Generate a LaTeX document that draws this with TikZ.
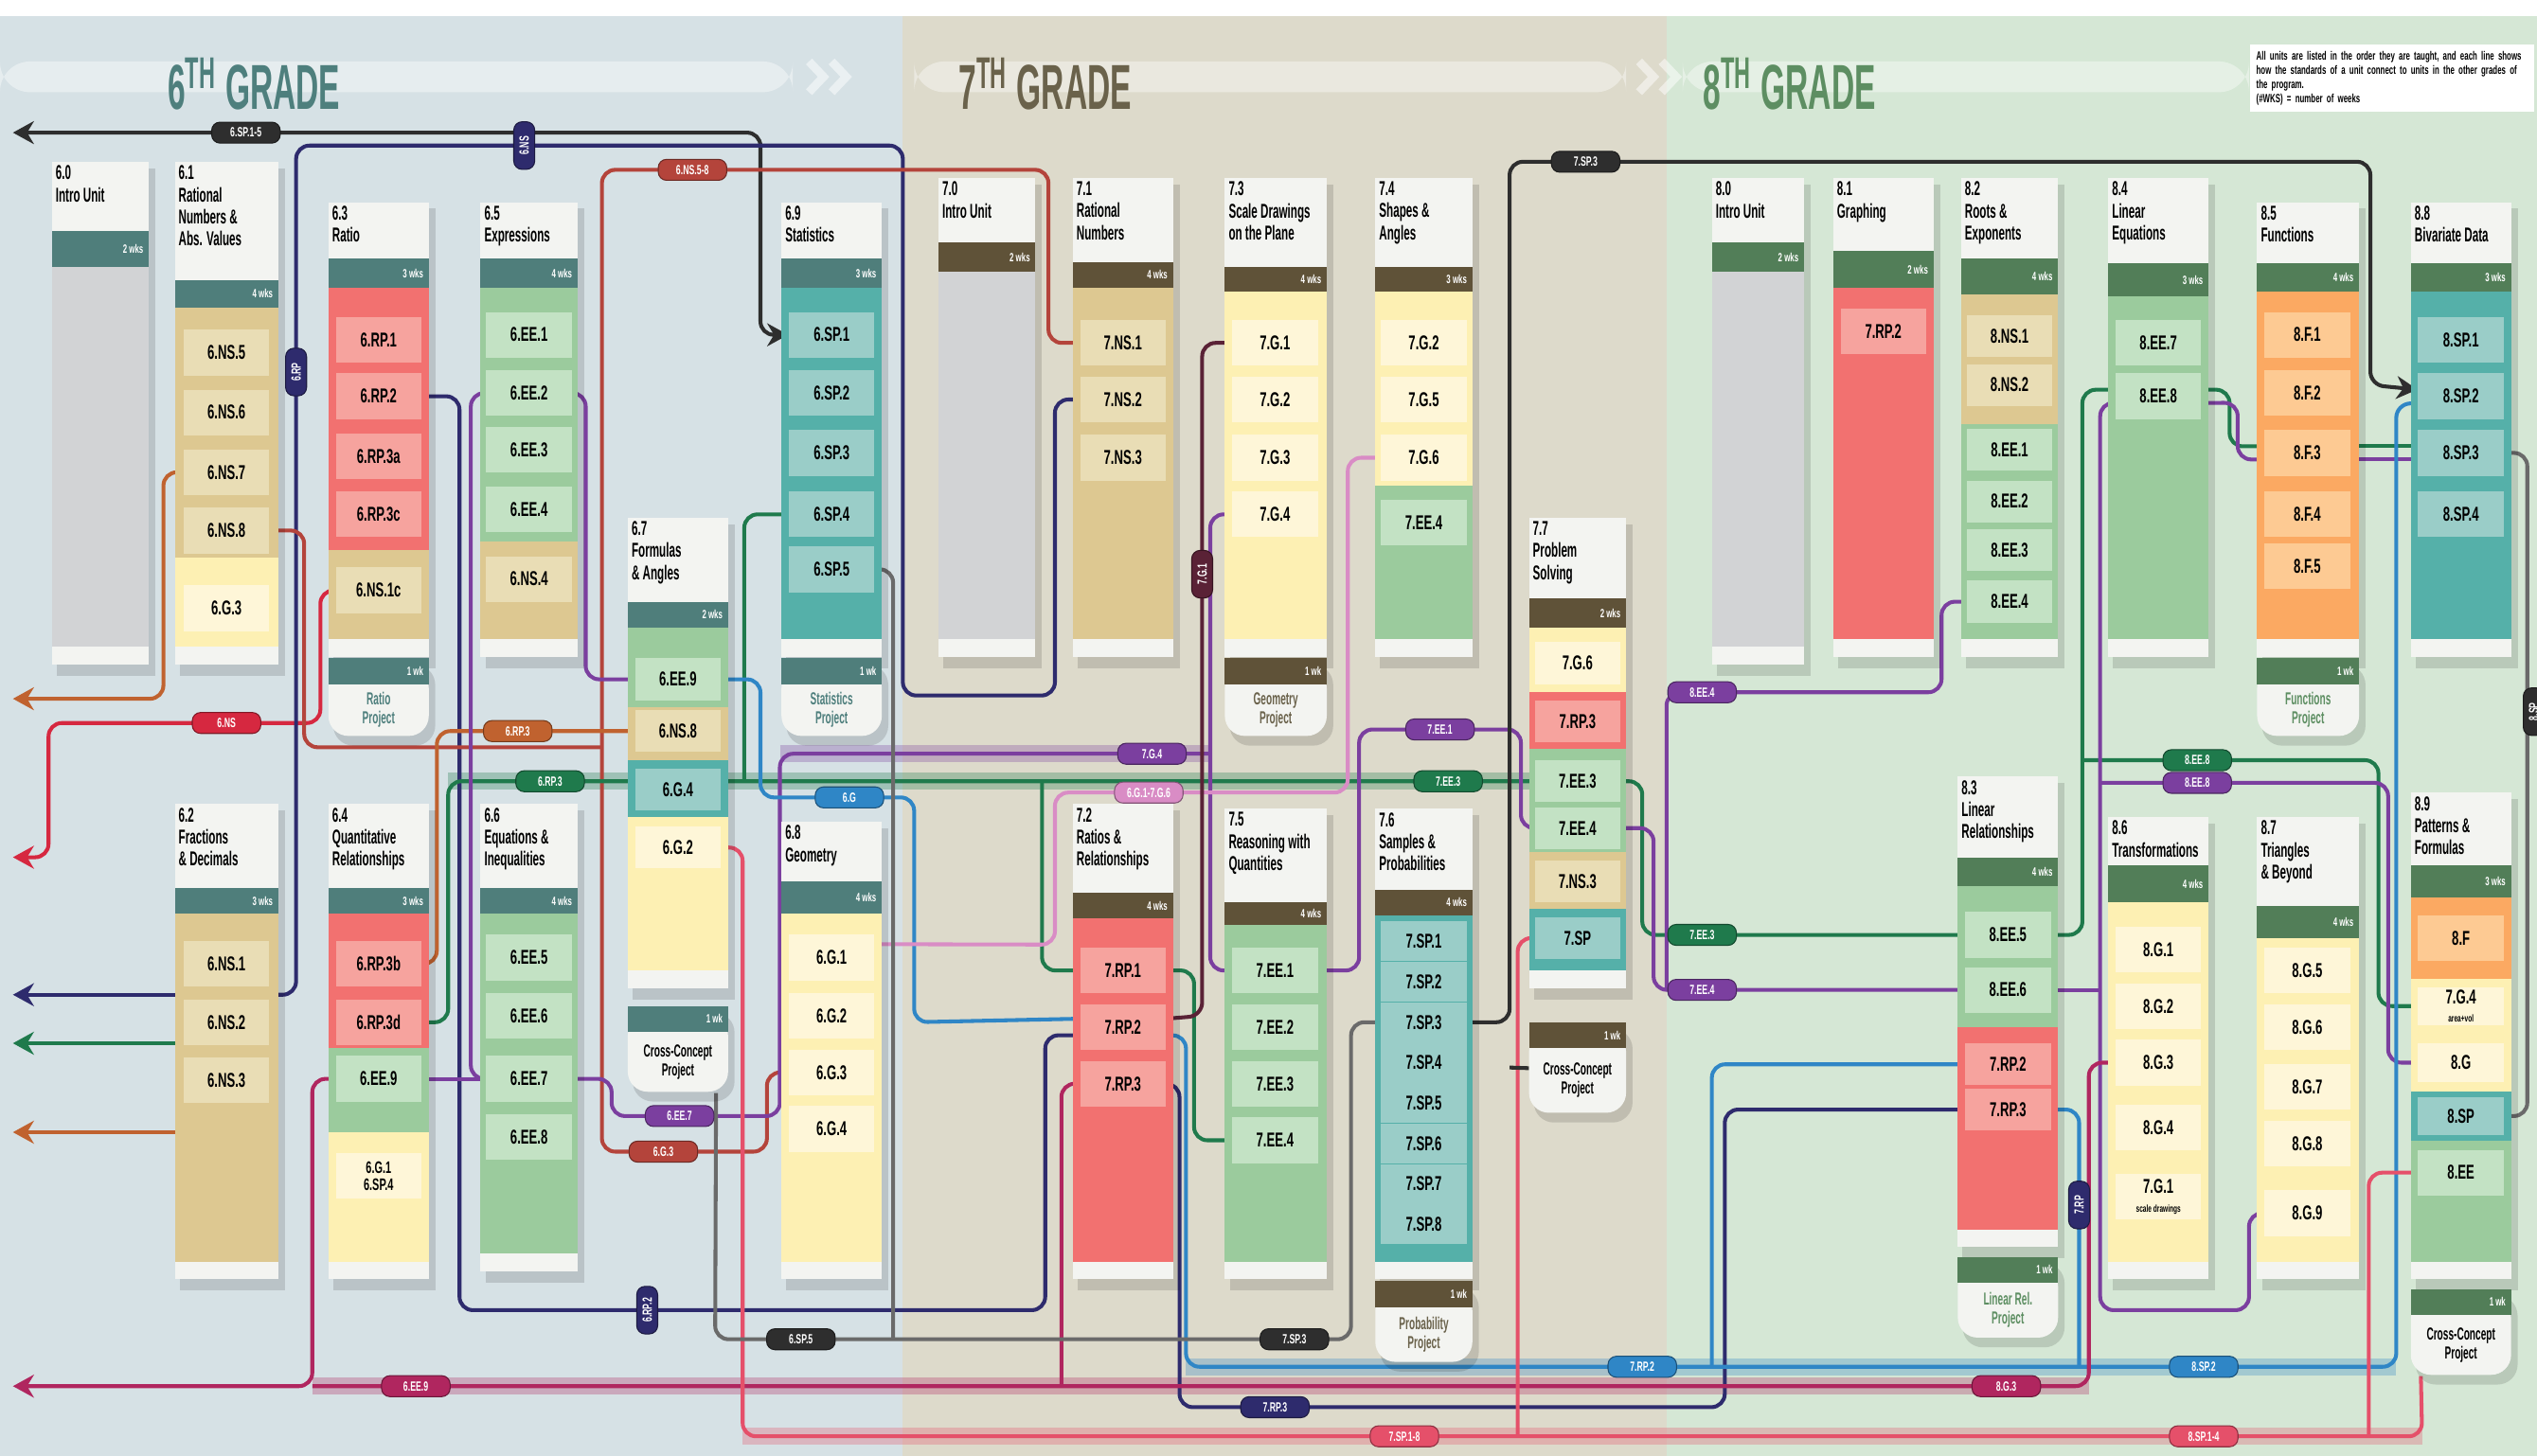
\documentclass[tikz,border=0pt]{standalone}
\usepackage{fontspec}
\usepackage{tikz}
\usetikzlibrary{positioning,arrows.meta,calc,backgrounds}
\newfontfamily\cond{Liberation Sans}[FakeStretch=0.62]
\newfontfamily\condn{Liberation Sans}[FakeStretch=0.55]
\newfontfamily\gradefont{Liberation Sans}[FakeStretch=0.5]
% panels
\definecolor{bgSix}{HTML}{D6E1E5}
\definecolor{bgSeven}{HTML}{DDDACB}
\definecolor{bgEight}{HTML}{D5E7D5}
\definecolor{colwhite}{HTML}{F3F4F1}
\definecolor{barSix}{HTML}{4F7E7B}
\definecolor{barSeven}{HTML}{5F5238}
\definecolor{barEight}{HTML}{527E58}
\definecolor{tSix}{HTML}{4E7F7D}
\definecolor{tSeven}{HTML}{6A624B}
\definecolor{tEight}{HTML}{5D8E62}
% unit bodies
\definecolor{cGray}{HTML}{D2D3D5}
\definecolor{cTan}{HTML}{DDC891}
\definecolor{cTanL}{HTML}{E9DDB5}
\definecolor{cRed}{HTML}{F27170}
\definecolor{cRedL}{HTML}{F6A39E}
\definecolor{cGrn}{HTML}{9BCB9D}
\definecolor{cGrnL}{HTML}{C3E2C4}
\definecolor{cTeal}{HTML}{55B0A9}
\definecolor{cTealL}{HTML}{9ACDC8}
\definecolor{cYel}{HTML}{FDF0B3}
\definecolor{cYelL}{HTML}{FEF6D8}
\definecolor{cOra}{HTML}{FBA962}
\definecolor{cOraL}{HTML}{FDCA93}
% lines
\definecolor{cBlack}{HTML}{2E2E2E}
\definecolor{cNavy}{HTML}{2E2B6D}
\definecolor{cBrick}{HTML}{B4443B}
\definecolor{cRedT}{HTML}{D62840}
\definecolor{cRust}{HTML}{C0622F}
\definecolor{cGreen}{HTML}{1F7A4C}
\definecolor{cPurple}{HTML}{7B3F9F}
\definecolor{cBlue}{HTML}{2F86C6}
\definecolor{cPink}{HTML}{D98CC5}
\definecolor{cMag}{HTML}{B0265F}
\definecolor{cCrim}{HTML}{E5506A}
\definecolor{cMaroon}{HTML}{5A2236}
\definecolor{cGrayL}{HTML}{6A6A6A}
\pgfdeclarelayer{wires}
\pgfsetlayers{background,wires,main}

% #1 x0 #2 x1 #3 title top #4 bar top #5 body top #6 body bottom #7 bar colour #8 title #9 weeks
\newcommand\unitcol[9]{%
  \fill[black,opacity=.13] (#1+3,#3+4) rectangle (#2+4,#6+18);
  \fill[colwhite] (#1,#3) rectangle (#2,#6+11);
  \fill[#7] (#1,#4) rectangle (#2,#5);
  \node[ttl] at (#1+2,#3+2) {#8};
  \node[wks] at (#2-3,{(#4+#5)/2}) {#9};
}
% #1 name #2 x0 #3 x1 #4 y0 #5 y1 #6 header colour #7 text colour #8 text
\newcommand\projtag[8]{%
  \fill[black,opacity=.13,rounded corners=6pt] (#2+3,#4+4) rectangle (#3+4,#5+6);
  \fill[colwhite,rounded corners=6pt] (#2,#4+6) rectangle (#3,#5);
  \fill[#6] (#2,#4) rectangle (#3,#4+16);
  \node[wks] at (#3-3,#4+8) {1 wk};
  \node[tagbox,minimum width={(#3-#2)*0.017cm},minimum height={(#5-#4)*0.017cm}] (#1) at (#2,#4) {};
  \node[tagtx,text=#7] at ({(#2+#3)/2},{(#4+16+#5)/2}) {#8};
}

\begin{document}
\begin{tikzpicture}[x=0.017cm, y=-0.017cm,
  >={Stealth[length=2.2mm,width=2.4mm]},
  ttl/.style={anchor=north west, align=left, inner sep=0pt,
              font=\condn\bfseries\fontsize{6}{6.6}\selectfont},
  wks/.style={anchor=east, inner sep=0pt, text=white,
              font=\cond\bfseries\fontsize{3.6}{4}\selectfont},
  item/.style={fill=#1, minimum width=0.9cm, minimum height=0.48cm,
               inner sep=0pt, align=center,
               font=\cond\bfseries\fontsize{6}{6.5}\selectfont},
  tagbox/.style={anchor=north west, inner sep=0pt},
  tagtx/.style={align=center, inner sep=0pt,
                font=\condn\bfseries\fontsize{5.2}{5.6}\selectfont},
  grade/.style={inner sep=0pt, font=\gradefont\bfseries\fontsize{19}{19}\selectfont},
  wire/.style={draw=#1, line width=1.15pt, rounded corners=4pt},
  halo/.style={draw=#1, line width=5pt, opacity=.3},
  pill/.style={fill=#1, draw=#1!60!black, line width=.3pt, rounded corners=2.5pt,
               text=white, inner sep=1pt, minimum height=0.22cm, minimum width=0.72cm,
               font=\cond\bfseries\fontsize{4}{4}\selectfont},
  vpill/.style={pill=#1, rotate=90, minimum width=0.5cm},
  legend/.style={anchor=north west, fill=white, text width=2.85cm, inner sep=2pt,
                 align=left, font=\cond\bfseries\fontsize{3.6}{4.3}\selectfont},
]
\useasboundingbox (0,0) rectangle (1568,900);

\begin{scope}[on background layer]
  \fill[white] (0,0) rectangle (1568,10);
  \fill[bgSix] (0,10) rectangle (558,900);
  \fill[bgSeven] (558,10) rectangle (1030,900);
  \fill[bgEight] (1030,10) rectangle (1568,900);
  % header bands
  \fill[white,opacity=.4,rounded corners=9pt] (0,38) rectangle (490,57);
  \fill[white,opacity=.4,rounded corners=9pt] (565,38) rectangle (1005,57);
  \fill[white,opacity=.4,rounded corners=9pt] (1040,38) rectangle (1390,57);
  \foreach \cx in {500,514,1013,1027}
    \draw[white,opacity=.5,line width=2.5pt] (\cx,38) -- (\cx+9,47.5) -- (\cx,57);
\end{scope}

% grade titles and legend
\node[grade, text=tSix] (gr6) at (157,52) {6\textsuperscript{TH} GRADE};
\node[grade, text=tSeven] (gr7) at (646,52) {7\textsuperscript{TH} GRADE};
\node[grade, text=tEight] (gr8) at (1106,52) {8\textsuperscript{TH} GRADE};
\node[legend] (lgd) at (1390,27) {All units are listed in the order they are taught, and each
  line shows how the standards of a unit connect to units in the other grades of the program.\\
  (\#WKS) = number of weeks};

% ---------- 6th grade, top row
\unitcol{32}{92}{100}{143}{165}{400}{barSix}{6.0\\Intro Unit}{2 wks}
\fill[cGray] (32,165) rectangle (92,400);

\unitcol{108}{172}{100}{173}{190}{400}{barSix}{6.1\\Rational\\Numbers \&\\Abs. Values}{4 wks}
\fill[cTan] (108,190) rectangle (172,345);
\fill[cYel] (108,345) rectangle (172,400);
\foreach \y/\lab/\nm in {218/6.NS.5/aNS5, 255/6.NS.6/aNS6, 292/6.NS.7/aNS7, 328/6.NS.8/aNS8}
  \node[item=cTanL] (\nm) at (140,\y) {\lab};
\node[item=cYelL] (aGg) at (140,376) {6.G.3};

\unitcol{203}{265}{125}{160}{178}{395}{barSix}{6.3\\Ratio}{3 wks}
\fill[cRed] (203,178) rectangle (265,340);
\fill[cTan] (203,340) rectangle (265,395);
\foreach \y/\lab/\nm in {210/6.RP.1/aRP1, 245/6.RP.2/aRP2, 282/6.RP.3a/aRPa, 318/6.RP.3c/aRPc}
  \node[item=cRedL] (\nm) at (234,\y) {\lab};
\node[item=cTanL] (aNSc) at (234,365) {6.NS.1c};
\projtag{t63}{203}{265}{407}{455}{barSix}{tSix}{Ratio\\Project}

\unitcol{297}{357}{125}{160}{178}{395}{barSix}{6.5\\Expressions}{4 wks}
\fill[cGrn] (297,178) rectangle (357,335);
\fill[cTan] (297,335) rectangle (357,395);
\foreach \y/\lab/\nm in {207/6.EE.1/aEE1, 243/6.EE.2/aEE2, 278/6.EE.3/aEE3, 315/6.EE.4/aEE4}
  \node[item=cGrnL] (\nm) at (327,\y) {\lab};
\node[item=cTanL] (aNS4) at (327,358) {6.NS.4};

\unitcol{483}{545}{125}{160}{178}{395}{barSix}{6.9\\Statistics}{3 wks}
\fill[cTeal] (483,178) rectangle (545,395);
\foreach \y/\lab/\nm in {207/6.SP.1/aSP1, 243/6.SP.2/aSP2, 280/6.SP.3/aSP3, 318/6.SP.4/aSP4, 352/6.SP.5/aSP5}
  \node[item=cTealL] (\nm) at (514,\y) {\lab};
\projtag{t69}{483}{545}{407}{455}{barSix}{tSix}{Statistics\\Project}

\unitcol{388}{450}{320}{372}{388}{600}{barSix}{6.7\\Formulas\\\& Angles}{2 wks}
\fill[cGrn] (388,388) rectangle (450,437);
\fill[cTan] (388,437) rectangle (450,470);
\fill[cTeal] (388,470) rectangle (450,505);
\fill[cYel] (388,505) rectangle (450,600);
\node[item=cGrnL, minimum height=0.44cm] (aEEf) at (419,420) {6.EE.9};
\node[item=cTanL, minimum height=0.44cm] (aNSf) at (419,452) {6.NS.8};
\node[item=cTealL, minimum height=0.44cm] (aGf4) at (419,488) {6.G.4};
\node[item=cYelL, minimum height=0.44cm] (aGf2) at (419,524) {6.G.2};
\projtag{t67}{388}{450}{622}{675}{barSix}{black}{Cross-Concept\\Project}

% ---------- 6th grade, bottom row
\unitcol{108}{172}{497}{549}{565}{780}{barSix}{6.2\\Fractions\\\& Decimals}{3 wks}
\fill[cTan] (108,565) rectangle (172,780);
\foreach \y/\lab/\nm in {596/6.NS.1/aNS1, 632/6.NS.2/aNS2, 668/6.NS.3/aNS3}
  \node[item=cTanL] (\nm) at (140,\y) {\lab};

\unitcol{203}{265}{497}{549}{565}{780}{barSix}{6.4\\Quantitative\\Relationships}{3 wks}
\fill[cRed] (203,565) rectangle (265,648);
\fill[cGrn] (203,648) rectangle (265,700);
\fill[cYel] (203,700) rectangle (265,780);
\node[item=cRedL] (aRPb) at (234,596) {6.RP.3b};
\node[item=cRedL] (aRPd) at (234,632) {6.RP.3d};
\node[item=cGrnL] (aEEq) at (234,667) {6.EE.9};
\node[item=cYelL, font=\cond\bfseries\fontsize{5}{5}\selectfont] (aGq) at (234,727) {6.G.1\\6.SP.4};

\unitcol{297}{357}{497}{549}{565}{775}{barSix}{6.6\\Equations \&\\Inequalities}{4 wks}
\fill[cGrn] (297,565) rectangle (357,775);
\foreach \y/\lab/\nm in {592/6.EE.5/aEE5, 628/6.EE.6/aEE6, 667/6.EE.7/aEE7, 703/6.EE.8/aEE8}
  \node[item=cGrnL] (\nm) at (327,\y) {\lab};

\unitcol{483}{545}{508}{545}{565}{780}{barSix}{6.8\\Geometry}{4 wks}
\fill[cYel] (483,565) rectangle (545,780);
\foreach \y/\lab/\nm in {592/6.G.1/aG1, 628/6.G.2/aG2, 663/6.G.3/aG3, 698/6.G.4/aG4}
  \node[item=cYelL] (\nm) at (514,\y) {\lab};

% ---------- 7th grade, top row
\unitcol{580}{640}{110}{150}{168}{395}{barSeven}{7.0\\Intro Unit}{2 wks}
\fill[cGray] (580,168) rectangle (640,395);

\unitcol{663}{725}{110}{162}{178}{395}{barSeven}{7.1\\Rational\\Numbers}{4 wks}
\fill[cTan] (663,178) rectangle (725,395);
\foreach \y/\lab/\nm in {212/7.NS.1/bNS1, 247/7.NS.2/bNS2, 283/7.NS.3/bNS3}
  \node[item=cTanL] (\nm) at (694,\y) {\lab};

\unitcol{757}{820}{110}{165}{180}{395}{barSeven}{7.3\\Scale Drawings\\on the Plane}{4 wks}
\fill[cYel] (757,180) rectangle (820,395);
\foreach \y/\lab/\nm in {212/7.G.1/bG1, 247/7.G.2/bG2, 283/7.G.3/bG3, 318/7.G.4/bG4}
  \node[item=cYelL] (\nm) at (788,\y) {\lab};
\projtag{t73}{757}{820}{407}{455}{barSeven}{tSeven}{Geometry\\Project}

\unitcol{850}{910}{110}{165}{180}{395}{barSeven}{7.4\\Shapes \&\\Angles}{3 wks}
\fill[cYel] (850,180) rectangle (910,300);
\fill[cGrn] (850,300) rectangle (910,395);
\foreach \y/\lab/\nm in {212/7.G.2/bGn2, 247/7.G.5/bGn5, 283/7.G.6/bGn6}
  \node[item=cYelL] (\nm) at (880,\y) {\lab};
\node[item=cGrnL] (bEEn) at (880,323) {7.EE.4};

\unitcol{945}{1005}{320}{370}{388}{600}{barSeven}{7.7\\Problem\\Solving}{2 wks}
\fill[cYel] (945,388) rectangle (1005,428);
\fill[cRed] (945,428) rectangle (1005,463);
\fill[cGrn] (945,463) rectangle (1005,527);
\fill[cTan] (945,527) rectangle (1005,562);
\fill[cTeal] (945,562) rectangle (1005,600);
\node[item=cYelL, minimum height=0.44cm] (bGp) at (975,410) {7.G.6};
\node[item=cRedL, minimum height=0.44cm] (bRPp) at (975,446) {7.RP.3};
\node[item=cGrnL, minimum height=0.44cm] (bEEp3) at (975,483) {7.EE.3};
\node[item=cGrnL, minimum height=0.44cm] (bEEp4) at (975,512) {7.EE.4};
\node[item=cTanL, minimum height=0.44cm] (bNSp) at (975,545) {7.NS.3};
\node[item=cTealL, minimum height=0.44cm] (bSPp) at (975,580) {7.SP};
\projtag{t77}{945}{1005}{632}{688}{barSeven}{black}{Cross-Concept\\Project}

% ---------- 7th grade, bottom row
\unitcol{663}{725}{497}{552}{568}{780}{barSeven}{7.2\\Ratios \&\\Relationships}{4 wks}
\fill[cRed] (663,568) rectangle (725,780);
\foreach \y/\lab/\nm in {600/7.RP.1/bRP1, 635/7.RP.2/bRP2, 670/7.RP.3/bRP3}
  \node[item=cRedL] (\nm) at (694,\y) {\lab};

\unitcol{757}{820}{500}{558}{572}{780}{barSeven}{7.5\\Reasoning with\\Quantities}{4 wks}
\fill[cGrn] (757,572) rectangle (820,780);
\foreach \y/\lab/\nm in {600/7.EE.1/bEE1, 635/7.EE.2/bEE2, 670/7.EE.3/bEE3, 705/7.EE.4/bEE4}
  \node[item=cGrnL] (\nm) at (788,\y) {\lab};

\unitcol{850}{910}{500}{550}{566}{780}{barSeven}{7.6\\Samples \&\\Probabilities}{4 wks}
\fill[cTeal] (850,566) rectangle (910,780);
\foreach \k in {1,...,8}
  \node[item=cTealL, minimum height=0.42cm] (bSP\k) at (880,557+25*\k) {7.SP.\k};
\projtag{t76}{850}{910}{792}{842}{barSeven}{tSeven}{Probability\\Project}

% ---------- 8th grade, top row
\unitcol{1058}{1115}{110}{150}{168}{400}{barEight}{8.0\\Intro Unit}{2 wks}
\fill[cGray] (1058,168) rectangle (1115,400);

\unitcol{1133}{1195}{110}{155}{178}{395}{barEight}{8.1\\Graphing}{2 wks}
\fill[cRed] (1133,178) rectangle (1195,395);
\node[item=cRedL] (cRPg) at (1164,205) {7.RP.2};

\unitcol{1212}{1272}{110}{160}{182}{395}{barEight}{8.2\\Roots \&\\Exponents}{4 wks}
\fill[cTan] (1212,182) rectangle (1272,262);
\fill[cGrn] (1212,262) rectangle (1272,395);
\foreach \y/\lab/\nm in {208/8.NS.1/cNS1, 238/8.NS.2/cNS2}
  \node[item=cTanL, minimum height=0.44cm] (\nm) at (1242,\y) {\lab};
\foreach \y/\lab/\nm in {278/8.EE.1/cEE1, 310/8.EE.2/cEE2, 340/8.EE.3/cEE3, 372/8.EE.4/cEE4}
  \node[item=cGrnL, minimum height=0.44cm] (\nm) at (1242,\y) {\lab};

\unitcol{1303}{1365}{110}{163}{183}{395}{barEight}{8.4\\Linear\\Equations}{3 wks}
\fill[cGrn] (1303,183) rectangle (1365,395);
\node[item=cGrnL] (cEE7) at (1334,212) {8.EE.7};
\node[item=cGrnL] (cEE8) at (1334,245) {8.EE.8};

\unitcol{1395}{1458}{125}{163}{180}{395}{barEight}{8.5\\Functions}{4 wks}
\fill[cOra] (1395,180) rectangle (1458,395);
\foreach \y/\lab/\nm in {207/8.F.1/cF1, 243/8.F.2/cF2, 280/8.F.3/cF3, 318/8.F.4/cF4, 350/8.F.5/cF5}
  \node[item=cOraL] (\nm) at (1426,\y) {\lab};
\projtag{t85}{1395}{1458}{407}{455}{barEight}{tEight}{Functions\\Project}

\unitcol{1490}{1552}{125}{163}{180}{395}{barEight}{8.8\\Bivariate Data}{3 wks}
\fill[cTeal] (1490,180) rectangle (1552,395);
\foreach \y/\lab/\nm in {210/8.SP.1/cSP1, 245/8.SP.2/cSP2, 280/8.SP.3/cSP3, 318/8.SP.4/cSP4}
  \node[item=cTealL] (\nm) at (1521,\y) {\lab};

% ---------- 8th grade, bottom row
\unitcol{1210}{1272}{480}{530}{548}{760}{barEight}{8.3\\Linear\\Relationships}{4 wks}
\fill[cGrn] (1210,548) rectangle (1272,635);
\fill[cRed] (1210,635) rectangle (1272,760);
\node[item=cGrnL] (cEE5) at (1241,578) {8.EE.5};
\node[item=cGrnL] (cEE6) at (1241,612) {8.EE.6};
\node[item=cRedL, minimum height=0.44cm] (cRPa) at (1241,658) {7.RP.2};
\node[item=cRedL, minimum height=0.44cm] (cRPb) at (1241,686) {7.RP.3};
\projtag{t83}{1210}{1272}{777}{827}{barEight}{tEight}{Linear Rel.\\Project}

\unitcol{1303}{1365}{505}{535}{558}{780}{barEight}{8.6\\Transformations}{4 wks}
\fill[cYel] (1303,558) rectangle (1365,780);
\foreach \y/\lab/\nm in {587/8.G.1/cG1, 622/8.G.2/cG2, 657/8.G.3/cG3, 697/8.G.4/cG4}
  \node[item=cYelL] (\nm) at (1334,\y) {\lab};
\node[item=cYelL] (cGs) at (1334,740) {7.G.1\\[-1pt]{\fontsize{3}{3}\selectfont scale drawings}};

\unitcol{1395}{1458}{505}{560}{580}{780}{barEight}{8.7\\Triangles\\\& Beyond}{4 wks}
\fill[cYel] (1395,580) rectangle (1458,780);
\foreach \y/\lab/\nm in {600/8.G.5/cG5, 635/8.G.6/cG6, 672/8.G.7/cG7, 707/8.G.8/cG8, 750/8.G.9/cG9}
  \node[item=cYelL] (\nm) at (1426,\y) {\lab};

\unitcol{1490}{1552}{490}{535}{555}{780}{barEight}{8.9\\Patterns \&\\Formulas}{3 wks}
\fill[cOra] (1490,555) rectangle (1552,605);
\fill[cYel] (1490,605) rectangle (1552,675);
\fill[cTeal] (1490,675) rectangle (1552,705);
\fill[cGrn] (1490,705) rectangle (1552,780);
\node[item=cOraL] (cFz) at (1521,580) {8.F};
\node[item=cYelL, minimum height=0.4cm] (cGza) at (1521,622) {7.G.4\\[-1pt]{\fontsize{3}{3}\selectfont area+vol}};
\node[item=cYelL, minimum height=0.4cm] (cGzb) at (1521,657) {8.G};
\node[item=cTealL, minimum height=0.4cm] (cSPz) at (1521,690) {8.SP};
\node[item=cGrnL] (cEEz) at (1521,725) {8.EE};
\projtag{t89}{1490}{1552}{797}{850}{barEight}{black}{Cross-Concept\\Project}

% free ends of the connectors
\coordinate (eBlk) at (8,82);
\coordinate (eRust) at (8,432);
\coordinate (eRed) at (8,530);
\coordinate (eNav) at (8,615);
\coordinate (eGrn) at (8,645);
\coordinate (eOra) at (8,700);
\coordinate (eMag) at (8,857);
\coordinate (fdN) at (108,615);
\coordinate (fdG) at (108,645);
\coordinate (fdO) at (108,700);
\coordinate (fdNr) at (172,615);
\coordinate (mJ) at (193,857);
\coordinate (pJ) at (748,466);
\coordinate (gJ) at (1287,470);
\coordinate (pL) at (1298,484);

\begin{pgfonlayer}{wires}
  % bands under the long runs
  \draw[halo=cMag] (mJ) -- (1291,857);
  \draw[halo=cCrim] (459,888) -- (1497,888);
  \draw[halo=cBlue] (733,845) -- (1481,845);
  \draw[halo=cPurple] (482,466) -- (pJ);
  \draw[halo=cGreen] (277,483) -- (945,483);
  % exits to the left
  \draw[wire=cBlack,<->] (aSP1.west) -- (470,207) -- (470,82) -- (eBlk);
  \draw[wire=cRust,->] (aNS7.west) -- (101,292) -- (101,432) -- (eRust);
  \draw[wire=cRedT,->] (aNSc.west) -- (198,365) -- (198,447) -- (30,447) -- (30,530) -- (eRed);
  \draw[wire=cNavy,->] (fdN) -- (eNav);
  \draw[wire=cGreen,->] (fdG) -- (eGrn);
  \draw[wire=cRust,->] (fdO) -- (eOra);
  \draw[wire=cMag,->] (aEEq.west) -- (193,667) -- (mJ) -- (eMag);
  % navy
  \draw[wire=cNavy] (fdNr) -- (183,615) -- (183,90) -- (558,90) -- (558,430) -- (652,430) -- (652,247) -- (bNS2.west);
  \draw[wire=cNavy] (aRP2.east) -- (284,245) -- (284,810) -- (646,810) -- (646,640) -- ([yshift=-2.5pt]bRP2.west);
  \draw[wire=cNavy] (cRPb.west) -- (1066,686) -- (1066,870) -- (729,870) -- (729,670) -- (bRP3.east);
  % brick
  \draw[wire=cBrick] (bNS1.west) -- (648,212) -- (648,105) -- (372,105) -- (372,712) -- (474,712) -- (474,663) -- (aG3.west);
  \draw[wire=cBrick] (aNS8.east) -- (188,328) -- (188,462) -- (372,462);
  % green
  \draw[wire=cGreen] (aRPd.east) -- (277,632) -- (277,483) -- (bEEp3.west);
  \draw[wire=cGreen] (aSP4.west) -- (460,318) -- (460,483);
  \draw[wire=cGreen] (bRP1.west) -- (644,600) -- (644,483);
  \draw[wire=cGreen] (bRP1.east) -- (738,600) -- (738,705) -- (bEE4.west);
  \draw[wire=cGreen] (bEEp3.east) -- (1015,483) -- (1015,578) -- (cEE5.west);
  \draw[wire=cGreen] (cEE5.east) -- (1287,578) -- (1287,241) -- ([yshift=2pt]cEE8.west);
  \draw[wire=cGreen] (gJ) -- (1470,470) -- (1470,622) -- (cGza.west);
  \draw[wire=cGreen] ([yshift=2pt]cEE8.east) -- (1378,241) -- (1378,276) -- ([yshift=2pt]cF3.west);
  \draw[wire=cGreen] ([yshift=2pt]cF3.east) -- ([yshift=2pt]cSP3.west);
  % rust
  \draw[wire=cRust] (aRPb.east) -- (270,596) -- (270,452) -- (aNSf.west);
  % purple
  \draw[wire=cPurple] (aEE2.east) -- (362,243) -- (362,420) -- (aEEf.west);
  \draw[wire=cPurple] (aEE2.west) -- (291,243) -- (291,667) -- (aEE7.west);
  \draw[wire=cPurple] (aEEq.east) -- (aEE7.west);
  \draw[wire=cPurple] (aEE7.east) -- (378,667) -- (378,690) -- (482,690) -- (482,466) -- (pJ);
  \draw[wire=cPurple] (bG4.west) -- (748,318) -- (748,600) -- (bEE1.west);
  \draw[wire=cPurple] (bEE1.east) -- (840,600) -- (840,451) -- (940,451) -- (940,512) -- (bEEp4.west);
  \draw[wire=cPurple] (bEEp4.east) -- (1022,512) -- (1022,612) -- (cEE6.west);
  \draw[wire=cPurple] (cEE4.west) -- (1200,372) -- (1200,428) -- (1030,428) -- (1030,612);
  \draw[wire=cPurple] (cEE6.east) -- (1298,612);
  \draw[wire=cPurple] ([yshift=-2pt]cEE8.west) -- (1298,249) -- (1298,810) -- (1390,810) -- (1390,750) -- (cG9.west);
  \draw[wire=cPurple] (pL) -- (1476,484) -- (1476,657) -- (cGzb.west);
  \draw[wire=cPurple] ([yshift=-2pt]cEE8.east) -- (1383,249) -- (1383,284) -- ([yshift=-2pt]cF3.west);
  \draw[wire=cPurple] ([yshift=-2pt]cF3.east) -- ([yshift=-2pt]cSP3.west);
  % blue
  \draw[wire=cBlue] (aEEf.east) -- (470,420) -- (470,493) -- (565,493) -- (565,632) -- ([yshift=2.5pt]bRP2.west);
  \draw[wire=cBlue] ([yshift=-2.5pt]bRP2.east) -- (733,640) -- (733,845) -- (1481,845) -- (1481,250) -- ([yshift=-2pt]cSP2.west);
  \draw[wire=cBlue] (cRPa.west) -- (1058,658) -- (1058,845);
  \draw[wire=cBlue] (cRPb.east) -- (1285,686) -- (1285,845);
  % magenta
  \draw[wire=cMag] (mJ) -- (1291,857) -- (1291,657) -- (cG3.west);
  \draw[wire=cMag] (bRP3.west) -- (656,670) -- (656,857);
  % crimson
  \draw[wire=cCrim] (aGf2.east) -- (459,524) -- (459,888) -- (1497,888) -- ([xshift=3pt]t89.south west);
  \draw[wire=cCrim] (bSPp.west) -- (938,580) -- (938,888);
  \draw[wire=cCrim] (cEEz.west) -- (1464,725) -- (1464,888);
  % pink
  \draw[wire=cPink] ([yshift=4pt]aG1.east) -- (652,584) -- (652,490) -- (833,490) -- (833,283) -- (bGn6.west);
  % maroon
  \draw[wire=cMaroon] (bG1.west) -- (743,212) -- (743,628) -- ([yshift=2.5pt]bRP2.east);
  % black and gray
  \draw[wire=cBlack,->] (bSP3.east) -- (933,632) -- (933,100) -- (1465,100) -- (1465,238) -- ([yshift=2pt]cSP2.west);
  \draw[wire=cBlack] (t77.west) -- (933,660);
  \draw[wire=cGrayL] ([xshift=-4pt]t67.south east) -- (442,828) -- (835,828) -- (835,632) -- (bSP3.west);
  \draw[wire=cGrayL] (aSP5.east) -- (552,352) -- (552,828);
  \draw[wire=cGrayL] (cSP3.east) -- (1562,280) -- (1562,690) -- (cSPz.east);
\end{pgfonlayer}

% line labels
\node[pill=cBlack] (pBlk) at (152,82) {6.SP.1-5};
\node[vpill=cNavy] (pNav1) at (324,90) {6.NS};
\node[vpill=cNavy] (pNav2) at (183,230) {6.RP};
\node[pill=cBrick] (pBrk1) at (428,105) {6.NS.5-8};
\node[pill=cRedT] (pRed) at (140,447) {6.NS};
\node[pill=cRust] (pRust) at (320,452) {6.RP.3};
\node[pill=cGreen] (pGrn1) at (340,483) {6.RP.3};
\node[pill=cBlue] (pBlu1) at (525,493) {6.G};
\node[pill=cPurple] (pPur1) at (420,690) {6.EE.7};
\node[pill=cBrick] (pBrk2) at (410,712) {6.G.3};
\node[vpill=cNavy] (pNav3) at (400,810) {6.RP.2};
\node[pill=cMag] (pMag1) at (257,857) {6.EE.9};
\node[pill=cBlack] (pGry1) at (495,828) {6.SP.5};
\node[pill=cBlack] (pGry2) at (800,828) {7.SP.3};
\node[pill=cPurple] (pPur2) at (712,466) {7.G.4};
\node[pill=cPink] (pPnk) at (710,490) {6.G.1-7.G.6};
\node[vpill=cMaroon] (pMar) at (743,355) {7.G.1};
\node[pill=cPurple] (pPur3) at (890,451) {7.EE.1};
\node[pill=cGreen] (pGrn2) at (895,483) {7.EE.3};
\node[pill=cBlack] (pBlk2) at (980,100) {7.SP.3};
\node[pill=cGreen] (pGrn3) at (1052,578) {7.EE.3};
\node[pill=cPurple] (pPur4) at (1052,612) {7.EE.4};
\node[pill=cPurple] (pPur5) at (1052,428) {8.EE.4};
\node[pill=cGreen] (pGrn4) at (1358,470) {8.EE.8};
\node[pill=cPurple] (pPur6) at (1358,484) {8.EE.8};
\node[vpill=cNavy] (pNav4) at (1285,745) {7.RP};
\node[pill=cBlue] (pBlu2) at (1015,845) {7.RP.2};
\node[pill=cBlue] (pBlu3) at (1362,845) {8.SP.2};
\node[pill=cMag] (pMag2) at (1240,857) {8.G.3};
\node[pill=cNavy] (pNav5) at (788,870) {7.RP.3};
\node[pill=cCrim] (pCrm1) at (868,888) {7.SP.1-8};
\node[pill=cCrim] (pCrm2) at (1362,888) {8.SP.1-4};
\node[vpill=cBlack] (pBlk3) at (1566,440) {8.SP};
\end{tikzpicture}
\end{document}
